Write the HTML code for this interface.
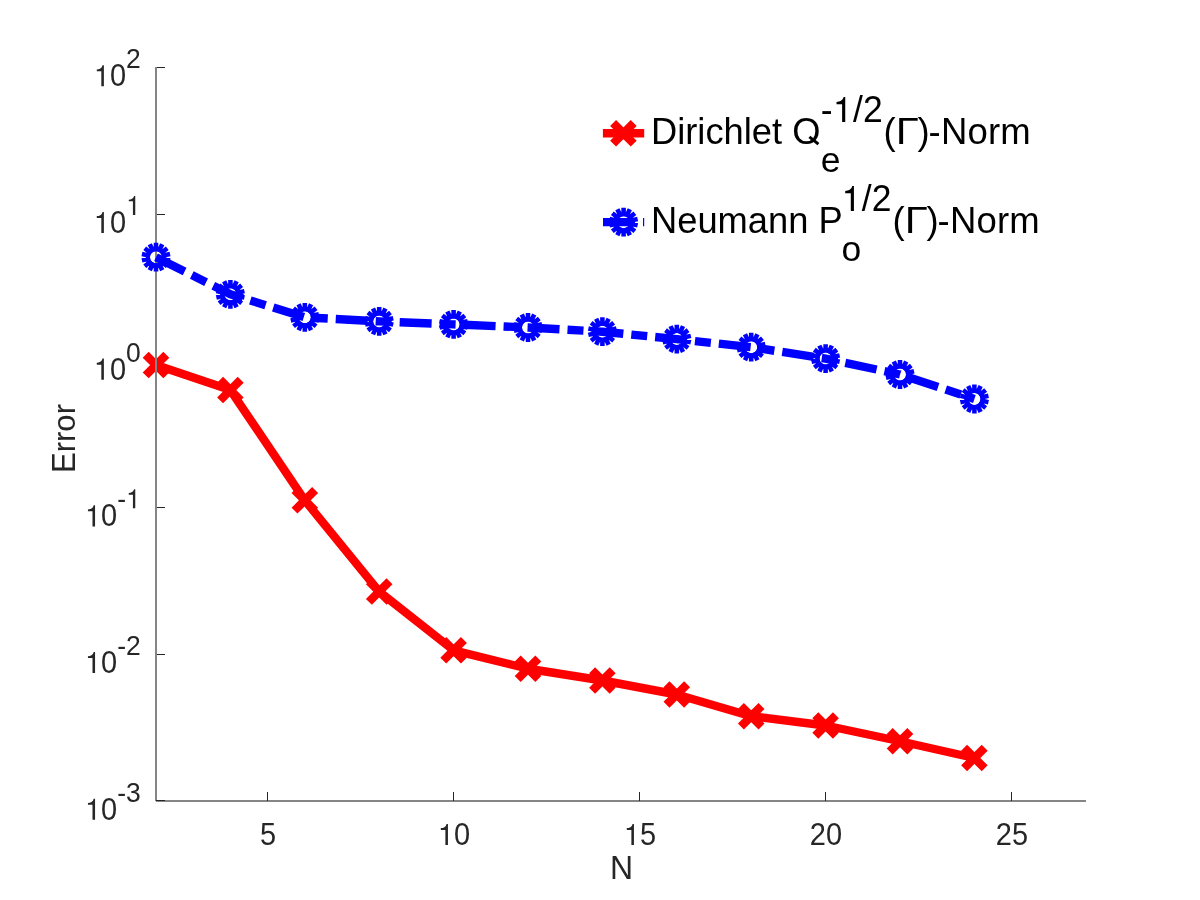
<!DOCTYPE html>
<html><head><meta charset="utf-8"><title>Error vs N</title>
<style>html,body{margin:0;padding:0;background:#fff;}body{width:1200px;height:900px;overflow:hidden;}svg{display:block;will-change:transform;}text{font-family:"Liberation Sans",sans-serif;}</style>
</head><body>
<svg width="1200" height="900" viewBox="0 0 1200 900">
<rect x="0" y="0" width="1200" height="900" fill="#ffffff"/>
<g shape-rendering="crispEdges">
<rect x="156" y="67" width="9" height="1" fill="#262626"/>
<rect x="156" y="214" width="9" height="1" fill="#262626"/>
<rect x="156" y="360" width="9" height="1" fill="#262626"/>
<rect x="156" y="507" width="9" height="1" fill="#262626"/>
<rect x="156" y="654" width="9" height="1" fill="#262626"/>
<rect x="156" y="800" width="9" height="1" fill="#262626"/>
<rect x="267" y="792" width="1" height="9" fill="#262626"/>
<rect x="453" y="792" width="1" height="9" fill="#262626"/>
<rect x="639" y="792" width="1" height="9" fill="#262626"/>
<rect x="825" y="792" width="1" height="9" fill="#262626"/>
<rect x="1011" y="792" width="1" height="9" fill="#262626"/>
</g>
<g fill="#262626">
<text transform="translate(0,86.30) scale(1,1.055)" x="109.94" y="0" font-size="29">0</text><path d="M101.33 86.30L101.33 71.27L96.78 71.27L96.78 69.39C99.33 69.27 101.88 68.14 102.55 65.19L103.88 65.19L103.88 86.30Z"/>
<text transform="translate(0,68.20) scale(1,1.04)" x="126.07" y="0" font-size="26.5">2</text>
<text transform="translate(0,233.00) scale(1,1.055)" x="109.94" y="0" font-size="29">0</text><path d="M101.33 233.00L101.33 217.97L96.78 217.97L96.78 216.09C99.33 215.97 101.88 214.84 102.55 211.89L103.88 211.89L103.88 233.00Z"/>
<path d="M132.93 214.90L132.93 201.36L128.77 201.36L128.77 199.67C131.10 199.56 133.43 198.54 134.04 195.89L135.26 195.89L135.26 214.90Z"/>
<text transform="translate(0,379.70) scale(1,1.055)" x="109.94" y="0" font-size="29">0</text><path d="M101.33 379.70L101.33 364.67L96.78 364.67L96.78 362.79C99.33 362.67 101.88 361.54 102.55 358.59L103.88 358.59L103.88 379.70Z"/>
<text transform="translate(0,361.60) scale(1,1.04)" x="126.07" y="0" font-size="26.5">0</text>
<text transform="translate(0,526.40) scale(1,1.055)" x="101.12" y="0" font-size="29">0</text><path d="M92.50 526.40L92.50 511.37L87.95 511.37L87.95 509.49C90.50 509.37 93.06 508.24 93.72 505.29L95.06 505.29L95.06 526.40Z"/>
<text transform="translate(0,508.30) scale(1,1.04)" x="117.24" y="0" font-size="26.5">-</text><path d="M132.93 508.30L132.93 494.76L128.77 494.76L128.77 493.07C131.10 492.96 133.43 491.94 134.04 489.29L135.26 489.29L135.26 508.30Z"/>
<text transform="translate(0,673.10) scale(1,1.055)" x="101.12" y="0" font-size="29">0</text><path d="M92.50 673.10L92.50 658.07L87.95 658.07L87.95 656.19C90.50 656.07 93.06 654.94 93.72 651.99L95.06 651.99L95.06 673.10Z"/>
<text transform="translate(0,655.00) scale(1,1.04)" x="117.24 126.07" y="0" font-size="26.5">-2</text>
<text transform="translate(0,819.80) scale(1,1.055)" x="101.12" y="0" font-size="29">0</text><path d="M92.50 819.80L92.50 804.77L87.95 804.77L87.95 802.89C90.50 802.77 93.06 801.64 93.72 798.69L95.06 798.69L95.06 819.80Z"/>
<text transform="translate(0,801.70) scale(1,1.04)" x="117.24 126.07" y="0" font-size="26.5">-3</text>
<text transform="translate(0,845.00) scale(1,1.055)" x="259.94" y="0" font-size="29">5</text>
<text transform="translate(0,845.00) scale(1,1.055)" x="454.00" y="0" font-size="29">0</text><path d="M445.39 845.00L445.39 829.97L440.83 829.97L440.83 828.09C443.39 827.97 445.94 826.84 446.60 823.89L447.94 823.89L447.94 845.00Z"/>
<text transform="translate(0,845.00) scale(1,1.055)" x="640.00" y="0" font-size="29">5</text><path d="M631.39 845.00L631.39 829.97L626.83 829.97L626.83 828.09C629.39 827.97 631.94 826.84 632.61 823.89L633.94 823.89L633.94 845.00Z"/>
<text transform="translate(0,845.00) scale(1,1.055)" x="809.88 826.00" y="0" font-size="29">20</text>
<text transform="translate(0,845.00) scale(1,1.055)" x="995.88 1012.00" y="0" font-size="29">25</text>
<text transform="translate(621.5,879) scale(1,1.04)" text-anchor="middle" font-size="32">N</text>
<g transform="translate(75,473.04) rotate(-90)" font-size="32"><text transform="scale(0.971,1.045)">E</text><text transform="translate(20.73,0) scale(0.971,1)">rror</text></g>
</g>
<g stroke="#ff0000" stroke-width="8.4" fill="none" stroke-linejoin="round" stroke-linecap="butt">
<polyline points="156.00,365.10 230.40,390.10 304.80,500.30 379.20,591.60 453.60,650.30 528.00,668.75 602.40,680.50 676.80,694.50 751.20,716.25 825.60,725.50 900.00,741.25 974.40,758.00"/>
<path d="M145.70 354.80L166.30 375.40M145.70 375.40L166.30 354.80M220.10 379.80L240.70 400.40M220.10 400.40L240.70 379.80M294.50 490.00L315.10 510.60M294.50 510.60L315.10 490.00M368.90 581.30L389.50 601.90M368.90 601.90L389.50 581.30M443.30 640.00L463.90 660.60M443.30 660.60L463.90 640.00M517.70 658.45L538.30 679.05M517.70 679.05L538.30 658.45M592.10 670.20L612.70 690.80M592.10 690.80L612.70 670.20M666.50 684.20L687.10 704.80M666.50 704.80L687.10 684.20M740.90 705.95L761.50 726.55M740.90 726.55L761.50 705.95M815.30 715.20L835.90 735.80M815.30 735.80L835.90 715.20M889.70 730.95L910.30 751.55M889.70 751.55L910.30 730.95M964.10 747.70L984.70 768.30M964.10 768.30L984.70 747.70"/>
</g>
<g shape-rendering="crispEdges">
<rect x="155" y="67" width="2" height="734" fill="#858585"/>
<rect x="156" y="800" width="930" height="2" fill="#858585"/>
<rect x="156" y="800" width="9" height="1" fill="#262626"/>
<rect x="267" y="800" width="1" height="1" fill="#262626"/>
<rect x="453" y="800" width="1" height="1" fill="#262626"/>
<rect x="639" y="800" width="1" height="1" fill="#262626"/>
<rect x="825" y="800" width="1" height="1" fill="#262626"/>
<rect x="1011" y="800" width="1" height="1" fill="#262626"/>
</g>
<g stroke="#0000ff" stroke-width="8.4" fill="none" stroke-linejoin="round" stroke-linecap="butt">
<polyline points="156.00,257.20 230.40,294.30 304.80,317.30 379.20,321.40 453.60,324.40 528.00,327.50 602.40,331.70 676.80,339.10 751.20,347.20 825.60,358.60 900.00,374.50 974.40,399.00" stroke-dasharray="32 8 16 8"/>
<circle cx="156.00" cy="257.20" r="8.15" stroke-width="4.30"/><path d="M156.00 251.20L156.00 242.80M153.40 251.79L149.75 244.23M151.31 253.46L144.74 248.22M150.15 255.86L141.96 254.00M150.15 258.54L141.96 260.40M151.31 260.94L144.74 266.18M153.40 262.61L149.75 270.17M156.00 263.20L156.00 271.60M158.60 262.61L162.25 270.17M160.69 260.94L167.26 266.18M161.85 258.54L170.04 260.40M161.85 255.86L170.04 254.00M160.69 253.46L167.26 248.22M158.60 251.79L162.25 244.23" stroke-width="4.55"/>
<circle cx="230.40" cy="294.30" r="8.15" stroke-width="4.30"/><path d="M230.40 288.30L230.40 279.90M227.80 288.89L224.15 281.33M225.71 290.56L219.14 285.32M224.55 292.96L216.36 291.10M224.55 295.64L216.36 297.50M225.71 298.04L219.14 303.28M227.80 299.71L224.15 307.27M230.40 300.30L230.40 308.70M233.00 299.71L236.65 307.27M235.09 298.04L241.66 303.28M236.25 295.64L244.44 297.50M236.25 292.96L244.44 291.10M235.09 290.56L241.66 285.32M233.00 288.89L236.65 281.33" stroke-width="4.55"/>
<circle cx="304.80" cy="317.30" r="8.15" stroke-width="4.30"/><path d="M304.80 311.30L304.80 302.90M302.20 311.89L298.55 304.33M300.11 313.56L293.54 308.32M298.95 315.96L290.76 314.10M298.95 318.64L290.76 320.50M300.11 321.04L293.54 326.28M302.20 322.71L298.55 330.27M304.80 323.30L304.80 331.70M307.40 322.71L311.05 330.27M309.49 321.04L316.06 326.28M310.65 318.64L318.84 320.50M310.65 315.96L318.84 314.10M309.49 313.56L316.06 308.32M307.40 311.89L311.05 304.33" stroke-width="4.55"/>
<circle cx="379.20" cy="321.40" r="8.15" stroke-width="4.30"/><path d="M379.20 315.40L379.20 307.00M376.60 315.99L372.95 308.43M374.51 317.66L367.94 312.42M373.35 320.06L365.16 318.20M373.35 322.74L365.16 324.60M374.51 325.14L367.94 330.38M376.60 326.81L372.95 334.37M379.20 327.40L379.20 335.80M381.80 326.81L385.45 334.37M383.89 325.14L390.46 330.38M385.05 322.74L393.24 324.60M385.05 320.06L393.24 318.20M383.89 317.66L390.46 312.42M381.80 315.99L385.45 308.43" stroke-width="4.55"/>
<circle cx="453.60" cy="324.40" r="8.15" stroke-width="4.30"/><path d="M453.60 318.40L453.60 310.00M451.00 318.99L447.35 311.43M448.91 320.66L442.34 315.42M447.75 323.06L439.56 321.20M447.75 325.74L439.56 327.60M448.91 328.14L442.34 333.38M451.00 329.81L447.35 337.37M453.60 330.40L453.60 338.80M456.20 329.81L459.85 337.37M458.29 328.14L464.86 333.38M459.45 325.74L467.64 327.60M459.45 323.06L467.64 321.20M458.29 320.66L464.86 315.42M456.20 318.99L459.85 311.43" stroke-width="4.55"/>
<circle cx="528.00" cy="327.50" r="8.15" stroke-width="4.30"/><path d="M528.00 321.50L528.00 313.10M525.40 322.09L521.75 314.53M523.31 323.76L516.74 318.52M522.15 326.16L513.96 324.30M522.15 328.84L513.96 330.70M523.31 331.24L516.74 336.48M525.40 332.91L521.75 340.47M528.00 333.50L528.00 341.90M530.60 332.91L534.25 340.47M532.69 331.24L539.26 336.48M533.85 328.84L542.04 330.70M533.85 326.16L542.04 324.30M532.69 323.76L539.26 318.52M530.60 322.09L534.25 314.53" stroke-width="4.55"/>
<circle cx="602.40" cy="331.70" r="8.15" stroke-width="4.30"/><path d="M602.40 325.70L602.40 317.30M599.80 326.29L596.15 318.73M597.71 327.96L591.14 322.72M596.55 330.36L588.36 328.50M596.55 333.04L588.36 334.90M597.71 335.44L591.14 340.68M599.80 337.11L596.15 344.67M602.40 337.70L602.40 346.10M605.00 337.11L608.65 344.67M607.09 335.44L613.66 340.68M608.25 333.04L616.44 334.90M608.25 330.36L616.44 328.50M607.09 327.96L613.66 322.72M605.00 326.29L608.65 318.73" stroke-width="4.55"/>
<circle cx="676.80" cy="339.10" r="8.15" stroke-width="4.30"/><path d="M676.80 333.10L676.80 324.70M674.20 333.69L670.55 326.13M672.11 335.36L665.54 330.12M670.95 337.76L662.76 335.90M670.95 340.44L662.76 342.30M672.11 342.84L665.54 348.08M674.20 344.51L670.55 352.07M676.80 345.10L676.80 353.50M679.40 344.51L683.05 352.07M681.49 342.84L688.06 348.08M682.65 340.44L690.84 342.30M682.65 337.76L690.84 335.90M681.49 335.36L688.06 330.12M679.40 333.69L683.05 326.13" stroke-width="4.55"/>
<circle cx="751.20" cy="347.20" r="8.15" stroke-width="4.30"/><path d="M751.20 341.20L751.20 332.80M748.60 341.79L744.95 334.23M746.51 343.46L739.94 338.22M745.35 345.86L737.16 344.00M745.35 348.54L737.16 350.40M746.51 350.94L739.94 356.18M748.60 352.61L744.95 360.17M751.20 353.20L751.20 361.60M753.80 352.61L757.45 360.17M755.89 350.94L762.46 356.18M757.05 348.54L765.24 350.40M757.05 345.86L765.24 344.00M755.89 343.46L762.46 338.22M753.80 341.79L757.45 334.23" stroke-width="4.55"/>
<circle cx="825.60" cy="358.60" r="8.15" stroke-width="4.30"/><path d="M825.60 352.60L825.60 344.20M823.00 353.19L819.35 345.63M820.91 354.86L814.34 349.62M819.75 357.26L811.56 355.40M819.75 359.94L811.56 361.80M820.91 362.34L814.34 367.58M823.00 364.01L819.35 371.57M825.60 364.60L825.60 373.00M828.20 364.01L831.85 371.57M830.29 362.34L836.86 367.58M831.45 359.94L839.64 361.80M831.45 357.26L839.64 355.40M830.29 354.86L836.86 349.62M828.20 353.19L831.85 345.63" stroke-width="4.55"/>
<circle cx="900.00" cy="374.50" r="8.15" stroke-width="4.30"/><path d="M900.00 368.50L900.00 360.10M897.40 369.09L893.75 361.53M895.31 370.76L888.74 365.52M894.15 373.16L885.96 371.30M894.15 375.84L885.96 377.70M895.31 378.24L888.74 383.48M897.40 379.91L893.75 387.47M900.00 380.50L900.00 388.90M902.60 379.91L906.25 387.47M904.69 378.24L911.26 383.48M905.85 375.84L914.04 377.70M905.85 373.16L914.04 371.30M904.69 370.76L911.26 365.52M902.60 369.09L906.25 361.53" stroke-width="4.55"/>
<circle cx="974.40" cy="399.00" r="8.15" stroke-width="4.30"/><path d="M974.40 393.00L974.40 384.60M971.80 393.59L968.15 386.03M969.71 395.26L963.14 390.02M968.55 397.66L960.36 395.80M968.55 400.34L960.36 402.20M969.71 402.74L963.14 407.98M971.80 404.41L968.15 411.97M974.40 405.00L974.40 413.40M977.00 404.41L980.65 411.97M979.09 402.74L985.66 407.98M980.25 400.34L988.44 402.20M980.25 397.66L988.44 395.80M979.09 395.26L985.66 390.02M977.00 393.59L980.65 386.03" stroke-width="4.55"/>
</g>
<g stroke="#ff0000" stroke-width="8.4" fill="none">
<path d="M602.9 133.3H644.2"/>
<path d="M613.1 123.00000000000001L633.6999999999999 143.60000000000002M613.1 143.60000000000002L633.6999999999999 123.00000000000001"/>
</g>
<g stroke="#0000ff" stroke-width="8.4" fill="none">
<path d="M603 222.1H644.2" stroke-dasharray="32 8 16 8"/>
<circle cx="623.60" cy="222.20" r="8.15" stroke-width="4.30"/><path d="M623.60 216.20L623.60 207.80M621.00 216.79L617.35 209.23M618.91 218.46L612.34 213.22M617.75 220.86L609.56 219.00M617.75 223.54L609.56 225.40M618.91 225.94L612.34 231.18M621.00 227.61L617.35 235.17M623.60 228.20L623.60 236.60M626.20 227.61L629.85 235.17M628.29 225.94L634.86 231.18M629.45 223.54L637.64 225.40M629.45 220.86L637.64 219.00M628.29 218.46L634.86 213.22M626.20 216.79L629.85 209.23" stroke-width="4.55"/>
</g>
<g fill="#000000" font-size="36.5">
<text x="651" y="143.9" font-size="36.3">Dirichlet O</text><path d="M809.4 136.9L818.4 144.1" stroke="#000" stroke-width="3" fill="none"/>
<text transform="translate(0,122.00) scale(1,1.02)" x="820.80 852.96 863.13" y="0" font-size="35.5">-/2</text><path d="M842.12 122.00L842.12 104.21L836.54 104.21L836.54 101.99C839.67 101.85 842.79 100.51 843.61 97.02L845.24 97.02L845.24 122.00Z"/>
<text x="820.8" y="171.5" font-size="35.5">e</text>
<text x="883.60" y="143.9">(</text><text transform="translate(895.75,143.9) scale(1.15,1)">Γ</text><text x="917.50" y="143.9">)</text><text x="928.60" y="143.9" letter-spacing="0.2">-Norm</text>
<text x="651" y="233.4" font-size="36.3">Neumann P</text>
<text transform="translate(0,211.00) scale(1,1.02)" x="861.64 871.81" y="0" font-size="35.5">/2</text><path d="M850.79 211.00L850.79 193.21L845.22 193.21L845.22 190.99C848.35 190.85 851.47 189.51 852.29 186.02L853.92 186.02L853.92 211.00Z"/>
<text x="841.6" y="260.7" font-size="35.5">o</text>
<text x="892.60" y="233.4">(</text><text transform="translate(904.75,233.4) scale(1.15,1)">Γ</text><text x="926.50" y="233.4">)</text><text x="937.60" y="233.4" letter-spacing="0.2">-Norm</text>
</g>
</svg></body></html>
